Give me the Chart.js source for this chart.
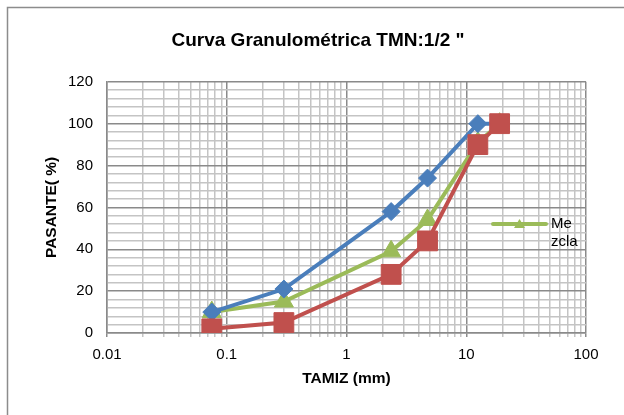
<!DOCTYPE html>
<html>
<head>
<meta charset="utf-8">
<script src="https://cdn.jsdelivr.net/npm/chart.js@4.4.1/dist/chart.umd.min.js"></script>
<style>
  html, body { margin: 0; padding: 0; background: #fff; }
  #wrap { width: 624px; height: 415px; }
</style>
</head>
<body>
<div id="wrap"><canvas id="granChart" width="624" height="415"></canvas></div>
<script>
// Abertura de tamices (mm) y porcentaje que pasa
const tamiz = [0.075, 0.3, 2.36, 4.75, 12.5, 19];
const limSuperior = [10, 21, 58, 74, 100, 100];
const mezcla = [10, 15, 39, 54, 91, 100];
const limInferior = [2, 5, 28, 44, 90, 100];

const xDecades = [0.01, 0.1, 1, 10, 100];
const xTickLabels = ['0.01', '0.1', '1', '10', '100'];
const yTickLabels = [0, 20, 40, 60, 80, 100, 120];
const legendLines = ['Me', 'zcla'];

const FONT = "'Liberation Sans', Arial, sans-serif";
const MAJOR = '#8a8a8a';
const MINOR = '#c4c4c4';

const toPoints = ys => tamiz.map((x, i) => ({ x: x, y: ys[i] }));

// 1..9 per decade for the log grid
const xGridValues = [];
xDecades.slice(0, -1).forEach(d => {
  for (let m = 1; m <= 9; m++) xGridValues.push(+(m * d).toPrecision(3));
});
xGridValues.push(xDecades[xDecades.length - 1]);

// frame around the whole chart + white fill, title nudged right
const frame = {
  id: 'frame',
  afterLayout(chart) {
    if (chart.titleBlock) {
      chart.titleBlock.left += 25;
      chart.titleBlock.right += 25;
    }
  },
  beforeDraw(chart) {
    const c = chart.ctx;
    c.save();
    c.fillStyle = '#fff';
    c.fillRect(0, 0, chart.width, chart.height);
    c.strokeStyle = '#8c8c8c';
    c.lineWidth = 1.5;
    c.beginPath();
    c.moveTo(7.5, chart.height + 5);
    c.lineTo(7.5, 7.5);
    c.lineTo(chart.width + 5, 7.5);
    c.stroke();
    c.restore();
  }
};

// single legend entry sitting inside the plot
const mezclaLegend = {
  id: 'mezclaLegend',
  afterDraw(chart) {
    const ds = chart.data.datasets.find(d => d.label === 'Mezcla');
    const c = chart.ctx;
    const y = 224;
    c.save();
    c.strokeStyle = ds.borderColor;
    c.lineWidth = 4;
    c.lineCap = 'round';
    c.beginPath();
    c.moveTo(493, y);
    c.lineTo(546, y);
    c.stroke();
    c.fillStyle = ds.borderColor;
    c.beginPath();
    c.moveTo(519.5, y - 5);
    c.lineTo(525, y + 4);
    c.lineTo(514, y + 4);
    c.closePath();
    c.fill();
    c.fillStyle = '#000';
    c.font = '15px ' + FONT;
    c.textBaseline = 'middle';
    legendLines.forEach((t, i) => c.fillText(t, 551, y + i * 18));
    c.restore();
  }
};

new Chart(document.getElementById('granChart'), {
  type: 'line',
  data: {
    datasets: [
      {
        label: 'Límite superior',
        data: toPoints(limSuperior),
        borderColor: '#4a7ebb',
        backgroundColor: '#4a7ebb',
        borderWidth: 4,
        pointStyle: 'rectRot',
        pointRadius: 9,
        pointBorderWidth: 1,
        order: 2
      },
      {
        label: 'Mezcla',
        data: toPoints(mezcla),
        borderColor: '#9bbb59',
        backgroundColor: '#9bbb59',
        borderWidth: 4,
        pointStyle: 'triangle',
        pointRadius: 11,
        pointBorderWidth: 1,
        order: 3
      },
      {
        label: 'Límite inferior',
        data: toPoints(limInferior),
        borderColor: '#c0504d',
        backgroundColor: '#c0504d',
        borderWidth: 4,
        pointStyle: 'rect',
        pointRadius: 14,
        pointBorderWidth: 1,
        order: 1
      }
    ]
  },
  options: {
    responsive: false,
    animation: false,
    events: [],
    layout: { padding: { left: 0, right: 38, top: 0, bottom: 0 } },
    scales: {
      x: {
        type: 'logarithmic',
        min: 0.01,
        max: 100,
        afterBuildTicks: scale => {
          scale.ticks = xGridValues.map(v => ({ value: v }));
        },
        afterFit: scale => { scale.height = 82; },
        ticks: {
          autoSkip: false,
          maxRotation: 0,
          padding: 9,
          color: '#000',
          font: { family: FONT, size: 15 },
          callback: v => {
            const i = xDecades.indexOf(v);
            return i >= 0 ? xTickLabels[i] : '';
          }
        },
        grid: {
          color: ctx => (ctx.tick && xDecades.includes(ctx.tick.value)) ? MAJOR : MINOR,
          lineWidth: 1.5,
          tickLength: 4
        },
        border: { color: MAJOR, width: 1.5 },
        title: {
          display: true,
          text: 'TAMIZ (mm)',
          color: '#000',
          font: { family: FONT, size: 15.5, weight: 'bold' },
          padding: { top: 0, bottom: 27 }
        }
      },
      y: {
        min: 0,
        max: 120,
        afterFit: scale => { scale.width = 107; },
        ticks: {
          stepSize: 4,
          autoSkip: false,
          padding: 14,
          color: '#000',
          font: { family: FONT, size: 15 },
          callback: v => yTickLabels.includes(v) ? v : ''
        },
        grid: {
          color: ctx => (ctx.tick && ctx.tick.value % 20 === 0) ? MAJOR : MINOR,
          lineWidth: 1.5,
          drawTicks: false
        },
        border: { color: MAJOR, width: 1.5 },
        title: {
          display: true,
          text: 'PASANTE( %)',
          color: '#000',
          font: { family: FONT, size: 15.5, weight: 'bold' },
          padding: { top: 42, bottom: 0 }
        }
      }
    },
    plugins: {
      legend: { display: false },
      tooltip: { enabled: false },
      title: {
        display: true,
        text: 'Curva Granulométrica TMN:1/2 "',
        color: '#000',
        font: { family: FONT, size: 19, weight: 'bold' },
        padding: { top: 29, bottom: 30 }
      }
    }
  },
  plugins: [frame, mezclaLegend]
});
</script>
</body>
</html>
